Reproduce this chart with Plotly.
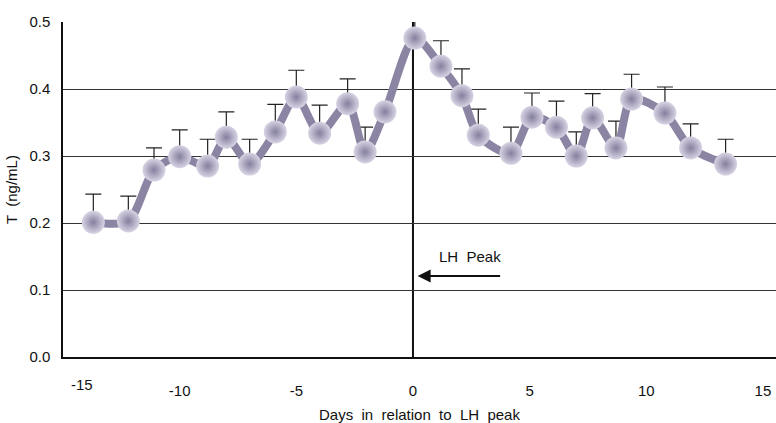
import plotly.graph_objects as go

days = [-13.7, -12.2, -11.1, -10.0, -8.8, -8.0, -7.0, -5.9, -5.0, -4.0, -2.8, -2.05, -1.2,
        0.08, 1.2, 2.1, 2.8, 4.2, 5.1, 6.15, 7.0, 7.7, 8.7, 9.37, 10.8, 11.9, 13.4]
t_vals = [0.201, 0.203, 0.279, 0.299, 0.285, 0.328, 0.288, 0.336, 0.388, 0.334, 0.378, 0.306, 0.366,
          0.476, 0.434, 0.390, 0.331, 0.304, 0.358, 0.343, 0.300, 0.357, 0.312, 0.385, 0.364, 0.312, 0.288]
err_top = [0.243, 0.240, 0.312, 0.339, 0.325, 0.366, 0.325, 0.377, 0.428, 0.376, 0.415, 0.343, None,
           0.513, 0.472, 0.430, 0.370, 0.343, 0.394, 0.382, 0.336, 0.393, 0.352, 0.422, 0.403, 0.348, 0.325]
err_plus = [(e - v) if e is not None else 0 for e, v in zip(err_top, t_vals)]

x_ticks = [-10, -5, 0, 5, 10, 15]
y_ticks = [0.0, 0.1, 0.2, 0.3, 0.4, 0.5]

FONT = "Liberation Sans, Arial, sans-serif"
LINE_C = "#8b84a3"

fig = go.Figure()
# error bars (drawn beneath the line and markers)
fig.add_trace(go.Scatter(
    x=days, y=t_vals, mode="markers",
    marker=dict(size=1, color="rgba(0,0,0,0)"),
    error_y=dict(type="data", symmetric=False, array=err_plus,
                 arrayminus=[0] * len(days), color="#222", thickness=1.2, width=8),
    cliponaxis=False, hoverinfo="skip", showlegend=False))
fig.add_trace(go.Scatter(
    x=days, y=t_vals, mode="lines+markers",
    line=dict(color=LINE_C, width=8, shape="spline", smoothing=0.8),
    marker=dict(size=23, color="#d8d4e4",
                gradient=dict(type="radial", color="#857f9e"),
                line=dict(width=0)),
    cliponaxis=False, showlegend=False))

# vertical line at LH peak
fig.add_shape(type="line", x0=0, x1=0, y0=0, y1=0.505, xref="x", yref="y",
              line=dict(color="#111", width=2), layer="below")

fig.add_annotation(x=0.2, y=0.121, ax=3.8, ay=0.121, xref="x", yref="y",
                   axref="x", ayref="y", text="", showarrow=True,
                   arrowhead=2, arrowsize=1.3, arrowwidth=2, arrowcolor="#111")
fig.add_annotation(x=2.45, y=0.15, xref="x", yref="y", text="LH  Peak",
                   showarrow=False, font=dict(family=FONT, size=15, color="#111"))
fig.add_annotation(x=-15, y=0, xref="x", yref="y", text="-15", showarrow=False,
                   xshift=19, yshift=-27, font=dict(family=FONT, size=15, color="#111"))

fig.update_layout(
    width=776, height=423,
    margin=dict(l=63, r=0, t=22, b=66),
    paper_bgcolor="white", plot_bgcolor="white",
    font=dict(family=FONT, size=15, color="#111"),
    xaxis=dict(range=[-15, 15.56], tickvals=x_ticks, ticktext=[str(v) for v in x_ticks],
               showgrid=False, zeroline=False, showline=True, linecolor="#111", linewidth=1.5,
               ticks="", ticklabelstandoff=19, automargin=False, ticklabeloverflow="allow",
               title=dict(text="Days  in  relation  to  LH  peak", standoff=16,
                          font=dict(family=FONT, size=15))),
    yaxis=dict(range=[0, 0.5], tickvals=y_ticks, ticktext=["%.1f" % v for v in y_ticks],
               showgrid=True, gridcolor="#333", gridwidth=1, zeroline=False, automargin=False,
               showline=True, linecolor="#111", linewidth=1.5, ticks="", ticklabelstandoff=8,
               title=dict(text="T  (ng/mL)", standoff=8, font=dict(family=FONT, size=15))),
)

fig.write_html("out.html",
               config={"displayModeBar": False},
               post_script="document.body.style.margin='0';document.body.style.overflow='hidden';")
